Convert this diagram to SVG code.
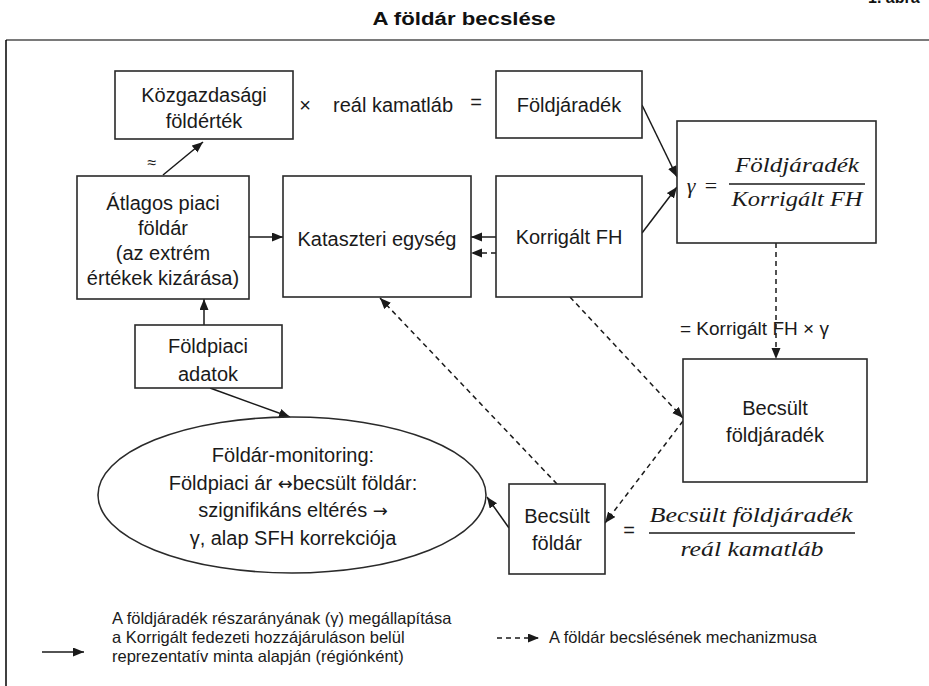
<svg xmlns="http://www.w3.org/2000/svg" width="929" height="686" viewBox="0 0 929 686">
<style>
  .bg { fill: #ffffff; }
  .box { fill: #ffffff; stroke: #2a2a2a; stroke-width: 1.6; }
  .t { font-family: "Liberation Sans", Arial, sans-serif; font-size: 20px; fill: #1a1a1a; text-anchor: middle; }
  .ts { font-family: "Liberation Sans", Arial, sans-serif; font-size: 20px; fill: #1a1a1a; }
  .lg { font-family: "Liberation Sans", Arial, sans-serif; font-size: 16.5px; fill: #1a1a1a; }
  .m { font-family: "Liberation Serif", "DejaVu Serif", serif; font-style: italic; font-size: 22px; fill: #1a1a1a; text-anchor: middle; }
  .arr { font-family: "DejaVu Sans", sans-serif; font-size: 18px; }
  .solid { fill: none; stroke: #1a1a1a; stroke-width: 1.5; marker-end: url(#ah); }
  .dash { fill: none; stroke: #1a1a1a; stroke-width: 1.5; stroke-dasharray: 5 4; marker-end: url(#ah); }
  .title { font-family: "Liberation Sans", Arial, sans-serif; font-weight: bold; font-size: 18px; fill: #111; text-anchor: middle; }
</style>
<defs>
  <marker id="ah" markerUnits="userSpaceOnUse" markerWidth="12" markerHeight="10" refX="11" refY="4.5" orient="auto">
    <path d="M0,0 L11,4.5 L0,9 z" fill="#1a1a1a"/>
  </marker>
</defs>
<rect class="bg" x="0" y="0" width="929" height="686"/>

<!-- header and frame -->
<text class="title" x="868" y="3" style="text-anchor:start;font-size:16px">1. ábra</text>
<text class="title" x="464" y="25" textLength="183" lengthAdjust="spacingAndGlyphs">A földár becslése</text>
<line x1="6" y1="40" x2="929" y2="40" stroke="#7a7a7a" stroke-width="2"/>
<line x1="6" y1="40" x2="6" y2="686" stroke="#000" stroke-width="1.5"/>

<!-- connectors -->
<g id="connectors">
  <line class="solid" x1="163" y1="175" x2="203" y2="142"/>
  <line class="solid" x1="249" y1="237" x2="283" y2="237"/>
  <line class="solid" x1="496" y1="237" x2="471" y2="237"/>
  <line class="dash" x1="496" y1="253" x2="471" y2="253"/>
  <line class="solid" x1="642" y1="105" x2="677" y2="177"/>
  <line class="solid" x1="642" y1="233" x2="677" y2="187"/>
  <line class="solid" x1="204" y1="325" x2="204" y2="299"/>
  <line class="solid" x1="210" y1="388" x2="290" y2="417"/>
  <line class="solid" x1="509" y1="528" x2="487" y2="497"/>
  <line class="dash" x1="776" y1="243" x2="776" y2="359"/>
  <line class="dash" x1="570" y1="297" x2="683" y2="418"/>
  <line class="dash" x1="683" y1="421" x2="605" y2="523"/>
  <line class="dash" x1="557" y1="484" x2="380" y2="298"/>
</g>

<g id="kozgazdasagi">
  <rect class="box" x="115" y="71" width="178" height="68"/>
  <text class="t" x="204" y="102">Közgazdasági</text>
  <text class="t" x="204" y="128">földérték</text>
</g>

<g id="atlagos">
  <rect class="box" x="77" y="176" width="172" height="123"/>
  <text class="t" x="163" y="210">Átlagos piaci</text>
  <text class="t" x="163" y="235">földár</text>
  <text class="t" x="163" y="260">(az extrém</text>
  <text class="t" x="163" y="285">értékek kizárása)</text>
</g>

<g id="kataszteri">
  <rect class="box" x="283" y="176" width="188" height="121"/>
  <text class="t" x="377" y="246">Kataszteri egység</text>
</g>

<g id="foldjaradek">
  <rect class="box" x="496" y="71" width="146" height="67"/>
  <text class="t" x="569" y="112">Földjáradék</text>
</g>

<g id="korrigalt">
  <rect class="box" x="496" y="176" width="146" height="121"/>
  <text class="t" x="569" y="244">Korrigált FH</text>
</g>

<g id="gamma">
  <rect class="box" x="677" y="121" width="199" height="122"/>
  <text class="m" x="691" y="193">γ</text>
  <text class="m" x="711" y="193" style="font-style:normal">=</text>
  <text class="m" x="797" y="172" textLength="124" lengthAdjust="spacingAndGlyphs">Földjáradék</text>
  <line x1="729" y1="184" x2="865" y2="184" stroke="#1a1a1a" stroke-width="1.5"/>
  <text class="m" x="797" y="206" textLength="131" lengthAdjust="spacingAndGlyphs">Korrigált FH</text>
</g>

<g id="becsult-foldjaradek">
  <rect class="box" x="683" y="359" width="184" height="123"/>
  <text class="t" x="775" y="415">Becsült</text>
  <text class="t" x="775" y="442">földjáradék</text>
</g>

<g id="becsult-foldar">
  <rect class="box" x="509" y="484" width="96" height="90"/>
  <text class="t" x="557" y="523">Becsült</text>
  <text class="t" x="557" y="550">földár</text>
</g>

<g id="foldpiaci">
  <rect class="box" x="135" y="325" width="147" height="63"/>
  <text class="t" x="208" y="353">Földpiaci</text>
  <text class="t" x="208" y="381">adatok</text>
</g>

<g id="monitoring">
  <ellipse class="box" cx="292" cy="495" rx="194" ry="78"/>
  <text class="t" x="293" y="462">Földár-monitoring:</text>
  <text class="t" x="293" y="490">Földpiaci ár <tspan class="arr">↔</tspan>becsült földár:</text>
  <text class="t" x="293" y="517">szignifikáns eltérés <tspan class="arr">→</tspan></text>
  <text class="t" x="293" y="545">γ, alap SFH korrekciója</text>
</g>

<!-- free labels -->
<g id="labels">
  <text class="t" x="305" y="112">×</text>
  <text class="ts" x="333" y="112">reál kamatláb</text>
  <text class="t" x="476" y="109">=</text>
  <text class="t" x="152" y="168" style="font-size:16px">≈</text>
  <text class="ts" x="680" y="335" style="font-size:19px">= Korrigált FH × γ</text>
  <text class="t" x="629" y="537">=</text>
  <text class="m" x="751" y="522" textLength="203" lengthAdjust="spacingAndGlyphs">Becsült földjáradék</text>
  <line x1="649" y1="533" x2="855" y2="533" stroke="#1a1a1a" stroke-width="1.5"/>
  <text class="m" x="752" y="556" textLength="143" lengthAdjust="spacingAndGlyphs">reál kamatláb</text>
</g>

<!-- legend -->
<g id="legend">
  <line class="solid" x1="42" y1="652" x2="84" y2="652"/>
  <text class="lg" x="112" y="624">A földjáradék részarányának (γ) megállapítása</text>
  <text class="lg" x="112" y="643">a Korrigált fedezeti hozzájáruláson belül</text>
  <text class="lg" x="112" y="662">reprezentatív minta alapján (régiónként)</text>
  <line class="dash" x1="497" y1="638" x2="539" y2="638"/>
  <text class="lg" x="549" y="643">A földár becslésének mechanizmusa</text>
</g>
</svg>
